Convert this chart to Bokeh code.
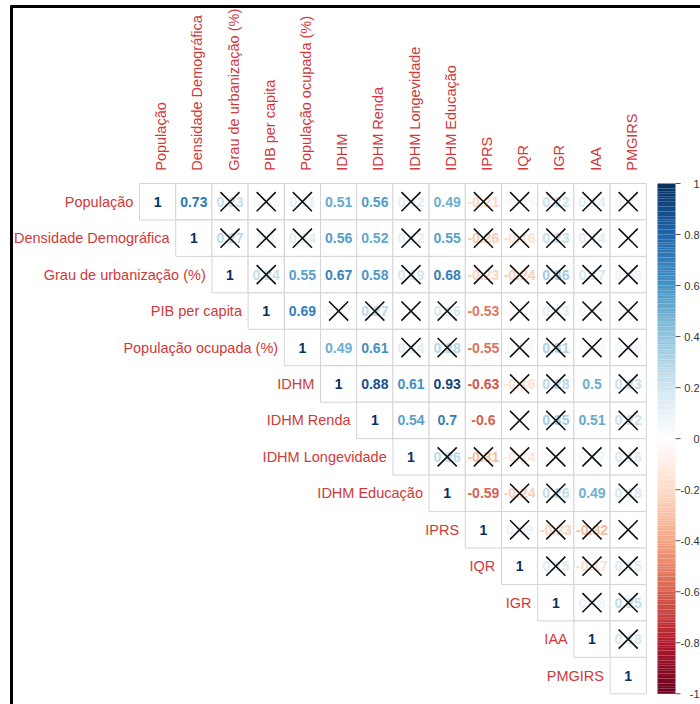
import numpy as np
from bokeh.plotting import figure
from bokeh.models import Range1d, ColumnDataSource
from bokeh.core.properties import value
from bokeh.embed import file_html
from bokeh.resources import INLINE

# ---------------- data ----------------
variables = ["População", "Densidade Demográfica", "Grau de urbanização (%)",
             "PIB per capita", "População ocupada (%)", "IDHM", "IDHM Renda",
             "IDHM Longevidade", "IDHM Educação", "IPRS", "IQR", "IGR", "IAA", "PMGIRS"]

# upper-triangle rows, each starting at the diagonal
r_populacao = [1, 0.73, 0.23, 0.05, 0.11, 0.51, 0.56, 0.12, 0.49, -0.21, -0.05, 0.22, 0.14, 0.05]
r_densidade = [1, 0.27, 0.10, 0.14, 0.56, 0.52, 0.12, 0.55, -0.26, -0.16, 0.23, 0.14, 0.03]
r_grau = [1, 0.24, 0.55, 0.67, 0.58, 0.19, 0.68, -0.23, -0.24, 0.36, 0.17, 0.08]
r_pib = [1, 0.69, 0.07, 0.27, 0.02, 0.16, -0.53, -0.04, 0.13, 0.05, 0.03]
r_popocup = [1, 0.49, 0.61, 0.14, 0.28, -0.55, 0.05, 0.31, 0.04, 0.06]
r_idhm = [1, 0.88, 0.61, 0.93, -0.63, -0.16, 0.28, 0.5, 0.23]
r_renda = [1, 0.54, 0.7, -0.6, -0.03, 0.35, 0.51, 0.22]
r_longev = [1, 0.26, -0.31, -0.14, 0.04, 0.07, 0.16]
r_educ = [1, -0.59, -0.24, 0.26, 0.49, 0.18]
r_iprs = [1, 0.09, -0.23, -0.32, -0.02]
r_iqr = [1, 0.15, -0.17, 0.15]
r_igr = [1, 0.08, 0.25]
r_iaa = [1, 0.18]
r_pmgirs = [1]

# column indices of non-significant cells (marked with X), per row
insig_populacao = [2, 3, 4, 7, 9, 10, 11, 12, 13]
insig_densidade = [2, 3, 4, 7, 9, 10, 11, 12, 13]
insig_grau = [3, 7, 9, 10, 11, 12, 13]
insig_pib = [5, 6, 7, 8, 10, 11, 12, 13]
insig_popocup = [7, 8, 10, 11, 12, 13]
insig_idhm = [10, 11, 13]
insig_renda = [10, 11, 13]
insig_longev = [8, 9, 10, 11, 12, 13]
insig_educ = [10, 11, 13]
insig_iprs = [10, 11, 12, 13]
insig_iqr = [11, 12, 13]
insig_igr = [12, 13]
insig_iaa = [13]
insig_pmgirs = []

colorbar_ticks = [1, 0.8, 0.6, 0.4, 0.2, 0, -0.2, -0.4, -0.6, -0.8, -1]
colorbar_labels = ["1", "0.8", "0.6", "0.4", "0.2", "0", "-0.2", "-0.4", "-0.6", "-0.8", "-1"]

rows = [r_populacao, r_densidade, r_grau, r_pib, r_popocup, r_idhm, r_renda,
        r_longev, r_educ, r_iprs, r_iqr, r_igr, r_iaa, r_pmgirs]
insig = [insig_populacao, insig_densidade, insig_grau, insig_pib, insig_popocup,
         insig_idhm, insig_renda, insig_longev, insig_educ, insig_iprs, insig_iqr,
         insig_igr, insig_iaa, insig_pmgirs]

# ---------------- colours ----------------
PAL = ["#67001F", "#B2182B", "#D6604D", "#F4A582", "#FDDBC7", "#FFFFFF",
       "#D1E5F0", "#92C5DE", "#4393C3", "#2166AC", "#053061"]
pal_rgb = np.array([[int(h[i:i + 2], 16) for i in (1, 3, 5)] for h in PAL], dtype=float)
pal_pos = np.linspace(-1, 1, len(PAL))


def corr_color(v):
    c = [np.interp(v, pal_pos, pal_rgb[:, k]) for k in range(3)]
    return "#%02x%02x%02x" % tuple(int(round(x)) for x in c)


# ---------------- geometry ----------------
W, H = 700, 704
X0, CW = 139.0, 36.2   # grid left edge / cell width in pixels
Y0, CH = 183.0, 36.45  # grid top edge / cell height in pixels


def px(xp):
    return (xp - X0) / CW


def py(yp):
    return (yp - Y0) / CH


n = len(variables)
p = figure(width=W, height=H, output_backend="svg", toolbar_location=None,
           x_range=Range1d(px(0), px(W)), y_range=Range1d(py(H), py(0)),
           min_border=0, min_border_left=0, min_border_right=0,
           min_border_top=0, min_border_bottom=0)
p.axis.visible = False
p.grid.visible = False
p.outline_line_color = None
p.background_fill_color = "white"
p.border_fill_color = "white"

# cells
cx, cy, val, txt, tcol = [], [], [], [], []
xx, xy = [], []
for i, row in enumerate(rows):
    for k, v in enumerate(row):
        j = i + k
        cx.append(j + 0.5)
        cy.append(i + 0.5)
        val.append(v)
        txt.append(f"{round(v, 2):g}")
        tcol.append(corr_color(v))
        if j in insig[i]:
            xx.append(j + 0.5)
            xy.append(i + 0.5)

src = ColumnDataSource(dict(x=cx, y=cy, v=val, t=txt, c=tcol))
p.rect(x="x", y="y", width=1, height=1, source=src, fill_color="white",
       line_color="#d4d4d4", line_width=1)
p.text(x="x", y="y", text="t", text_color="c", source=src, text_align="center",
       text_baseline="middle", text_font=value("Liberation Sans"),
       text_font_style="bold", text_font_size="14px")
p.scatter(x=xx, y=xy, marker="x", size=27, line_color="#111111", line_width=1.6)

# row labels (left of the diagonal) and column labels (top)
lab_col = "#cf3a3a"
p.text(x=[i - 0.17 for i in range(n)], y=[i + 0.5 for i in range(n)], text=variables,
       text_align="right", text_baseline="middle", text_color=lab_col,
       text_font=value("Liberation Sans"), text_font_size="14.5px")
p.text(x=[i + 0.6 for i in range(n)], y=[-0.35] * n, text=variables, angle=np.pi / 2,
       text_align="left", text_baseline="middle", text_color=lab_col,
       text_font=value("Liberation Sans"), text_font_size="14.5px")

# colour bar
steps = np.linspace(-1, 1, 201)
bot = steps[:-1]
top = steps[1:]
mid = (bot + top) / 2
cb_y = lambda v: (1 - np.asarray(v)) / 2 * n
p.quad(left=px(657), right=px(675), top=cb_y(top), bottom=cb_y(bot),
       fill_color=[corr_color(v) for v in mid], line_color=None)
p.segment(x0=[px(675)] * len(colorbar_ticks), x1=[px(680)] * len(colorbar_ticks),
          y0=cb_y(colorbar_ticks), y1=cb_y(colorbar_ticks), line_color="#555555",
          line_width=1)
p.text(x=[px(699)] * len(colorbar_ticks), y=cb_y(colorbar_ticks), text=colorbar_labels,
       text_align="right", text_baseline="middle", text_color="#333333",
       text_font=value("Liberation Sans"), text_font_size="11px")

# picture frame (top and left border of the screenshot)
p.line(x=[px(10), px(W)], y=[py(6), py(6)], line_color="black", line_width=3)
p.line(x=[px(11), px(11)], y=[py(5), py(H)], line_color="black", line_width=3)

open("out.html", "w").write(file_html(p, INLINE))
